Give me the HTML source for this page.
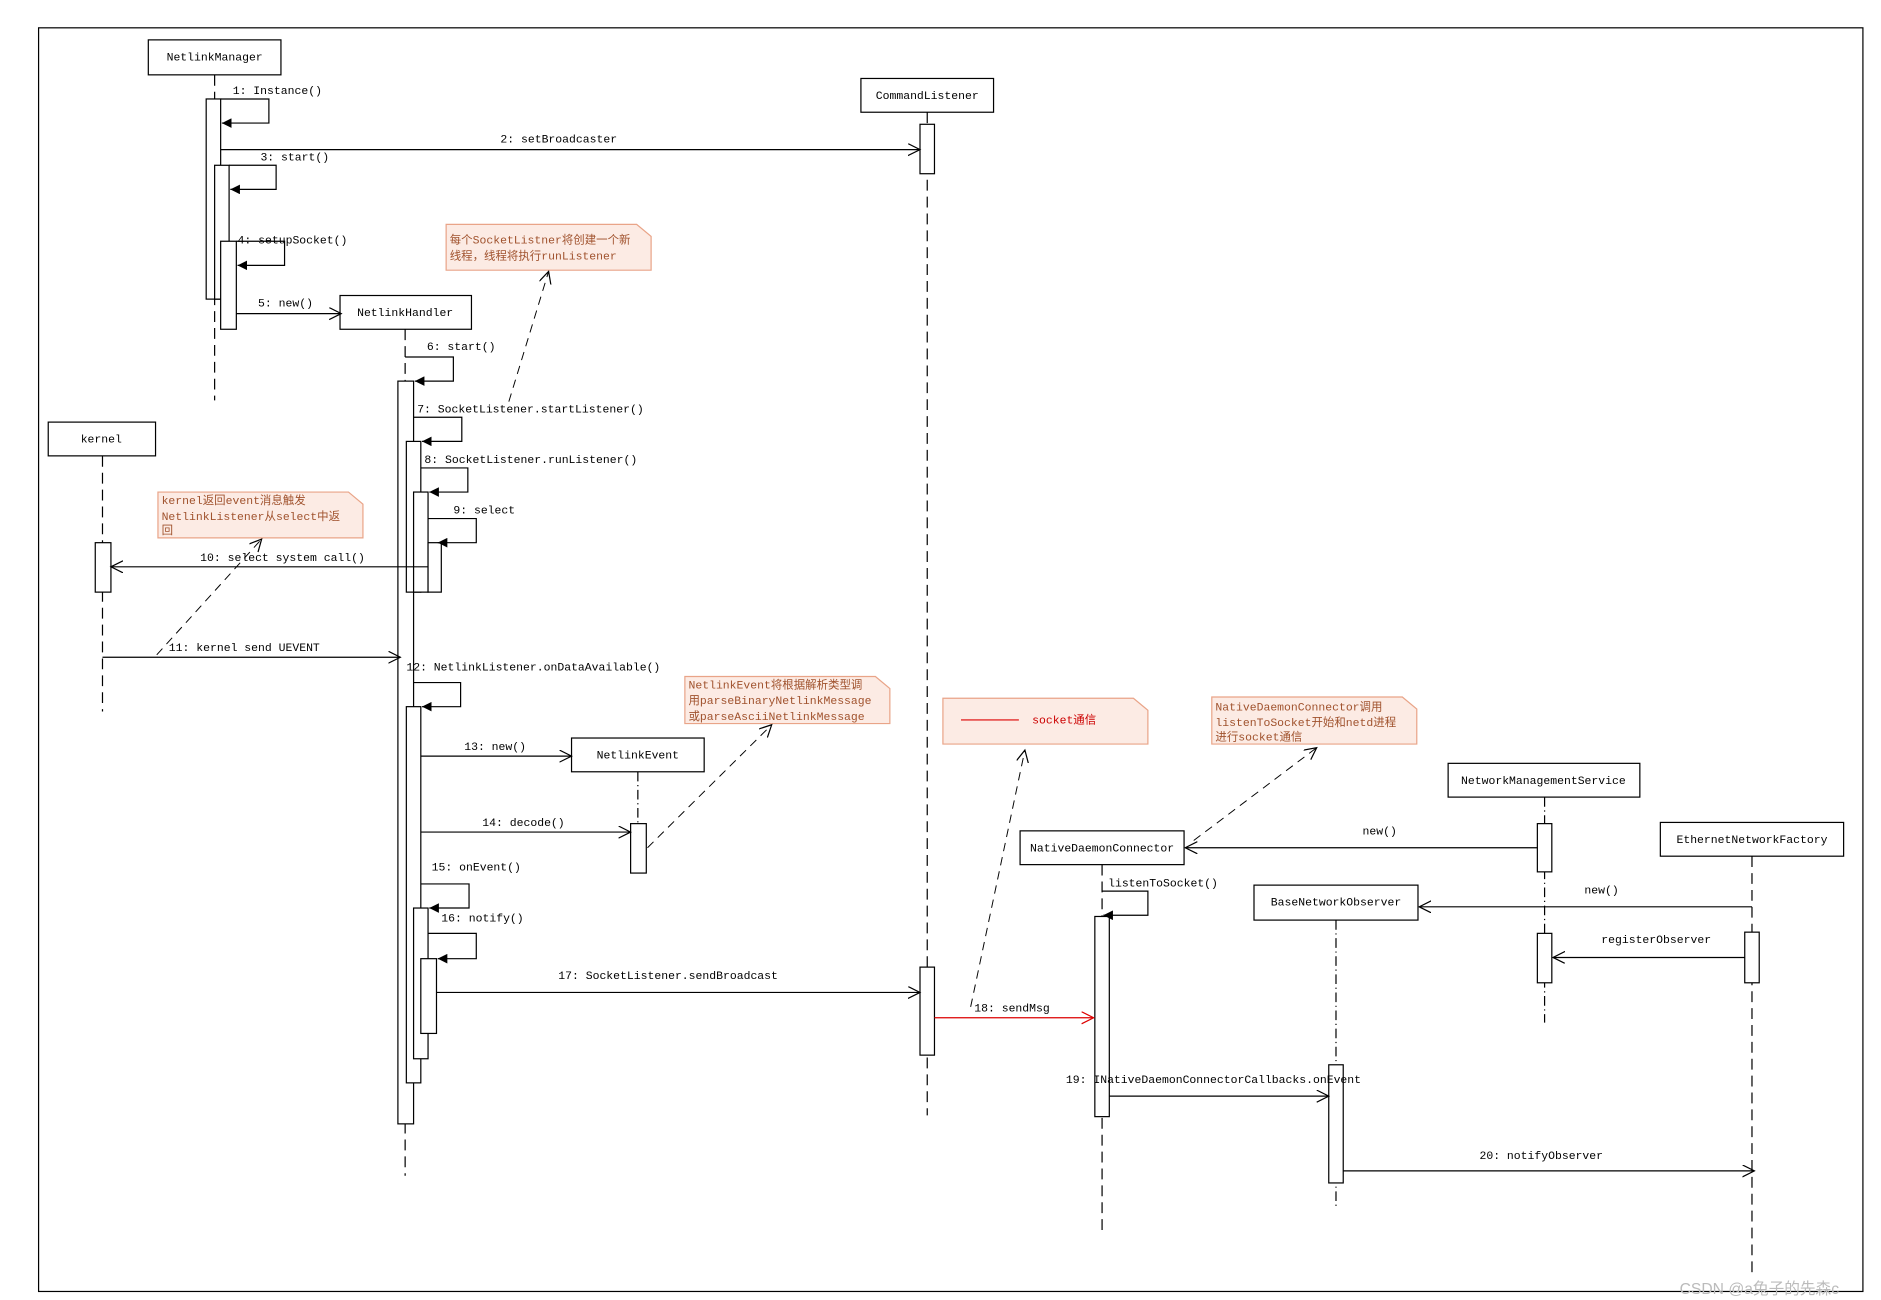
<!DOCTYPE html>
<html><head><meta charset="utf-8"><style>
html,body{margin:0;padding:0;background:#fff;}
svg{display:block;}
text{font-family:"Liberation Mono","Noto Sans CJK SC",monospace;font-size:9.5px;fill:#000;}
.n text{fill:#a0522d;}
.note{fill:#fcebe4;stroke:#e9a488;stroke-width:1;}
.dl{stroke:#000;stroke-dasharray:9,5;fill:none;}
.dd{stroke:#000;stroke-dasharray:8,3,1,3;fill:none;}
.dn{stroke:#000;stroke-dasharray:7,5;fill:none;stroke-width:.8;}
.ln{stroke:#000;fill:none;}
.act{fill:#fff;stroke:#000;}
</style></head><body>
<svg width="1881" height="1300" viewBox="0 0 1560 1078" xmlns="http://www.w3.org/2000/svg">
<defs>
<marker id="o" markerWidth="12" markerHeight="12" refX="10" refY="5" orient="auto" markerUnits="userSpaceOnUse"><path d="M0,0 L10,5 L0,10" fill="none" stroke="#000"/></marker>
<marker id="or" markerWidth="12" markerHeight="12" refX="10" refY="5" orient="auto" markerUnits="userSpaceOnUse"><path d="M0,0 L10,5 L0,10" fill="none" stroke="#d00"/></marker>
<marker id="f" markerWidth="10" markerHeight="8" refX="8" refY="4" orient="auto" markerUnits="userSpaceOnUse"><path d="M0,0 L8,4 L0,8z" fill="#000"/></marker>
</defs>
<rect x="32" y="23" width="1513" height="1048" fill="none" stroke="#000"/>

<!-- lifelines -->
<line class="dl" x1="178" y1="62" x2="178" y2="332"/>
<line class="dl" x1="336" y1="273" x2="336" y2="975"/>
<line class="dl" x1="85" y1="378" x2="85" y2="590"/>
<line class="dd" x1="529" y1="640" x2="529" y2="683"/>
<line class="dl" x1="769" y1="93" x2="769" y2="925"/>
<line class="dl" x1="914" y1="717" x2="914" y2="1020"/>
<line class="dd" x1="1281" y1="661" x2="1281" y2="848"/>
<line class="dl" x1="1453" y1="710" x2="1453" y2="1055"/>
<line class="dd" x1="1108" y1="763" x2="1108" y2="1000"/>

<!-- boxes -->
<g fill="#fff" stroke="#000">
<rect x="123" y="33" width="110" height="29"/>
<rect x="714" y="65" width="110" height="28"/>
<rect x="282" y="245" width="109" height="28"/>
<rect x="40" y="350" width="89" height="28"/>
<rect x="474" y="612" width="110" height="28"/>
<rect x="846" y="689" width="136" height="28"/>
<rect x="1201" y="633" width="159" height="28"/>
<rect x="1377" y="682" width="152" height="28"/>
<rect x="1040" y="734" width="136" height="29"/>
</g>
<g text-anchor="middle">
<text x="178" y="50">NetlinkManager</text>
<text x="769" y="82">CommandListener</text>
<text x="336" y="262">NetlinkHandler</text>
<text x="84" y="367">kernel</text>
<text x="529" y="629">NetlinkEvent</text>
<text x="914" y="706">NativeDaemonConnector</text>
<text x="1280" y="650">NetworkManagementService</text>
<text x="1453" y="699">EthernetNetworkFactory</text>
<text x="1108" y="751">BaseNetworkObserver</text>
</g>

<!-- activations -->
<rect class="act" x="171" y="82" width="12" height="166"/>
<rect class="act" x="178" y="137" width="12" height="111"/>
<rect class="act" x="183" y="200" width="13" height="73"/>
<rect class="act" x="763" y="103" width="12" height="41"/>
<rect class="act" x="330" y="316" width="13" height="616"/>
<rect class="act" x="337" y="366" width="12" height="125"/>
<rect class="act" x="343" y="408" width="12" height="83"/>
<rect class="act" x="355" y="450" width="11" height="41"/>
<rect class="act" x="79" y="450" width="13" height="41"/>
<rect class="act" x="337" y="586" width="12" height="312"/>
<rect class="act" x="523" y="683" width="13" height="41"/>
<rect class="act" x="343" y="753" width="12" height="125"/>
<rect class="act" x="349" y="795" width="13" height="62"/>
<rect class="act" x="763" y="802" width="12" height="73"/>
<rect class="act" x="908" y="760" width="12" height="166"/>
<rect class="act" x="1275" y="683" width="12" height="40"/>
<rect class="act" x="1275" y="774" width="12" height="41"/>
<rect class="act" x="1447" y="773" width="12" height="42"/>
<rect class="act" x="1102" y="883" width="12" height="98"/>

<!-- self calls -->
<g class="ln" marker-end="url(#f)">
<path d="M183,82 H223 V102 H184"/>
<path d="M190,137 H229 V157 H191"/>
<path d="M196,200 H236 V220 H197"/>
<path d="M336,296 H376 V316 H344"/>
<path d="M343,346 H383 V366 H350"/>
<path d="M349,388 H388 V408 H356"/>
<path d="M355,430 H395 V450 H363"/>
<path d="M343,566 H382 V586 H350"/>
<path d="M349,733 H389 V753 H356"/>
<path d="M355,774 H395 V795 H363"/>
<path d="M914,739 H952 V759 H915"/>
</g>

<!-- messages -->
<g class="ln" marker-end="url(#o)">
<line x1="183" y1="124" x2="763" y2="124"/>
<line x1="196" y1="260" x2="283" y2="260"/>
<line x1="355" y1="470" x2="92" y2="470"/>
<line x1="85" y1="545" x2="332" y2="545"/>
<line x1="349" y1="627" x2="474" y2="627"/>
<line x1="349" y1="690" x2="523" y2="690"/>
<line x1="362" y1="823" x2="763" y2="823"/>
<line x1="1275" y1="703" x2="983" y2="703"/>
<line x1="1453" y1="752" x2="1177" y2="752"/>
<line x1="1447" y1="794" x2="1288" y2="794"/>
<line x1="920" y1="909" x2="1102" y2="909"/>
<line x1="1114" y1="971" x2="1455" y2="971"/>
</g>
<line x1="775" y1="844" x2="907" y2="844" stroke="#d00" fill="none" marker-end="url(#or)"/>

<text x="193" y="78">1: Instance()</text>
<text x="415" y="118">2: setBroadcaster</text>
<text x="216" y="133">3: start()</text>
<text x="197" y="202">4: setupSocket()</text>
<text x="214" y="254">5: new()</text>
<text x="354" y="290">6: start()</text>
<text x="346" y="342">7: SocketListener.startListener()</text>
<text x="352" y="384">8: SocketListener.runListener()</text>
<text x="376" y="426">9: select</text>
<text x="166" y="465">10: select system call()</text>
<text x="140" y="540">11: kernel send UEVENT</text>
<text x="337" y="556">12: NetlinkListener.onDataAvailable()</text>
<text x="385" y="622">13: new()</text>
<text x="400" y="685">14: decode()</text>
<text x="358" y="722">15: onEvent()</text>
<text x="366" y="764">16: notify()</text>
<text x="463" y="812">17: SocketListener.sendBroadcast</text>
<text x="808" y="839">18: sendMsg</text>
<text x="919" y="735">listenToSocket()</text>
<text x="1130" y="692">new()</text>
<text x="1314" y="741">new()</text>
<text x="1328" y="782">registerObserver</text>
<text x="884" y="898">19: INativeDaemonConnectorCallbacks.onEvent</text>
<text x="1227" y="961">20: notifyObserver</text>

<!-- notes -->
<g class="n">
<path class="note" d="M370,186 H528 L540,196 V224 H370Z"/>
<text x="373" y="202">每个SocketListner将创建一个新</text>
<text x="373" y="215">线程，线程将执行runListener</text>
<path class="note" d="M131,408 H289 L301,418 V446 H131Z"/>
<text x="134" y="418">kernel返回event消息触发</text>
<text x="134" y="431">NetlinkListener从select中返</text>
<text x="134" y="443">回</text>
<path class="note" d="M568,561 H726 L738,571 V600 H568Z"/>
<text x="571" y="571">NetlinkEvent将根据解析类型调</text>
<text x="571" y="584">用parseBinaryNetlinkMessage</text>
<text x="571" y="597">或parseAsciiNetlinkMessage</text>
<path class="note" d="M782,579 H940 L952,589 V617 H782Z"/>
<line x1="797" y1="597" x2="845" y2="597" stroke="#d00"/>
<text x="856" y="600" style="fill:#c00">socket通信</text>
<path class="note" d="M1005,578 H1163 L1175,588 V617 H1005Z"/>
<text x="1008" y="589">NativeDaemonConnector调用</text>
<text x="1008" y="602">listenToSocket开始和netd进程</text>
<text x="1008" y="614">进行socket通信</text>
</g>
<g class="dn" marker-end="url(#o)">
<line x1="422" y1="333" x2="455" y2="225"/>
<line x1="130" y1="543" x2="217" y2="447"/>
<line x1="537" y1="703" x2="640" y2="601"/>
<line x1="805" y1="835" x2="850" y2="622"/>
<line x1="990" y1="697" x2="1092" y2="620"/>
</g>

<text x="1393" y="1073" style="font-family:'Liberation Sans','Noto Sans CJK SC',sans-serif;font-size:13px;fill:#bbb">CSDN @a兔子的先森c</text>
</svg>
</body></html>
